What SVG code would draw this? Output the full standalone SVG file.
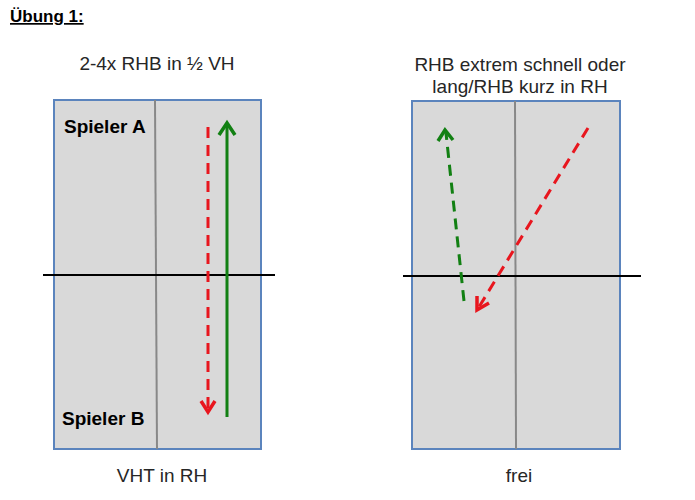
<svg xmlns="http://www.w3.org/2000/svg" width="695" height="500" viewBox="0 0 695 500">
<style>
text{font-family:"Liberation Sans",Arial,sans-serif;}
.t{font-size:19px;fill:#262626;text-anchor:middle;}
.b{font-size:19px;font-weight:bold;fill:#000;}
.court{fill:#d9d9d9;stroke:#5b84bd;stroke-width:2;}
.mid{stroke:#888;stroke-width:2;}
.net{stroke:#000;stroke-width:2;}
.red{stroke:#e8161e;stroke-width:3;fill:none;stroke-dasharray:11 7;}
.green{stroke:#128013;stroke-width:3;fill:none;}
.gd{stroke-dasharray:11 7;}
.head{fill:none;stroke-width:3.5;stroke-linecap:butt;stroke-linejoin:miter;}
</style>
<rect width="695" height="500" fill="#fff"/>
<text x="10" y="22" style="font-size:17px;font-weight:bold;text-decoration:underline;">Übung 1:</text>
<g id="left-court">
<text class="t" x="157" y="70">2-4x RHB in ½ VH</text>
<rect class="court" x="54" y="100" width="207" height="349"/>
<line class="mid" x1="155" y1="100" x2="157" y2="449"/>
<line class="net" x1="43" y1="275" x2="275" y2="275"/>
<text class="b" x="64" y="133">Spieler A</text>
<text class="b" x="62" y="425">Spieler B</text>
<text class="t" x="162" y="482">VHT in RH</text>
</g>
<g id="right-court">
<text class="t" x="520" y="71">RHB extrem schnell oder</text>
<text class="t" x="520" y="93">lang/RHB kurz in RH</text>
<rect class="court" x="412" y="101" width="208" height="348"/>
<line class="mid" x1="515" y1="101" x2="516" y2="449"/>
<line class="net" x1="403" y1="276" x2="641" y2="276"/>
<text class="t" x="519" y="482">frei</text>
</g>
<g id="connectors">
<line class="red" x1="208" y1="127" x2="208" y2="410"/>
<polyline class="head" stroke="#e8161e" points="201,401 208,412 215,401"/>
<line class="green" x1="227" y1="417" x2="227" y2="125"/>
<polyline class="head" stroke="#128013" points="219,135 227,123 235,135"/>
<line class="green gd" x1="464" y1="301" x2="446" y2="133"/>
<polyline class="head" stroke="#128013" points="438,141 445,130 453,140"/>
<line class="red" x1="588" y1="128" x2="479" y2="307"/>
<polyline class="head" stroke="#e8161e" points="477,296 477,310 489,303"/>
</g>
</svg>
